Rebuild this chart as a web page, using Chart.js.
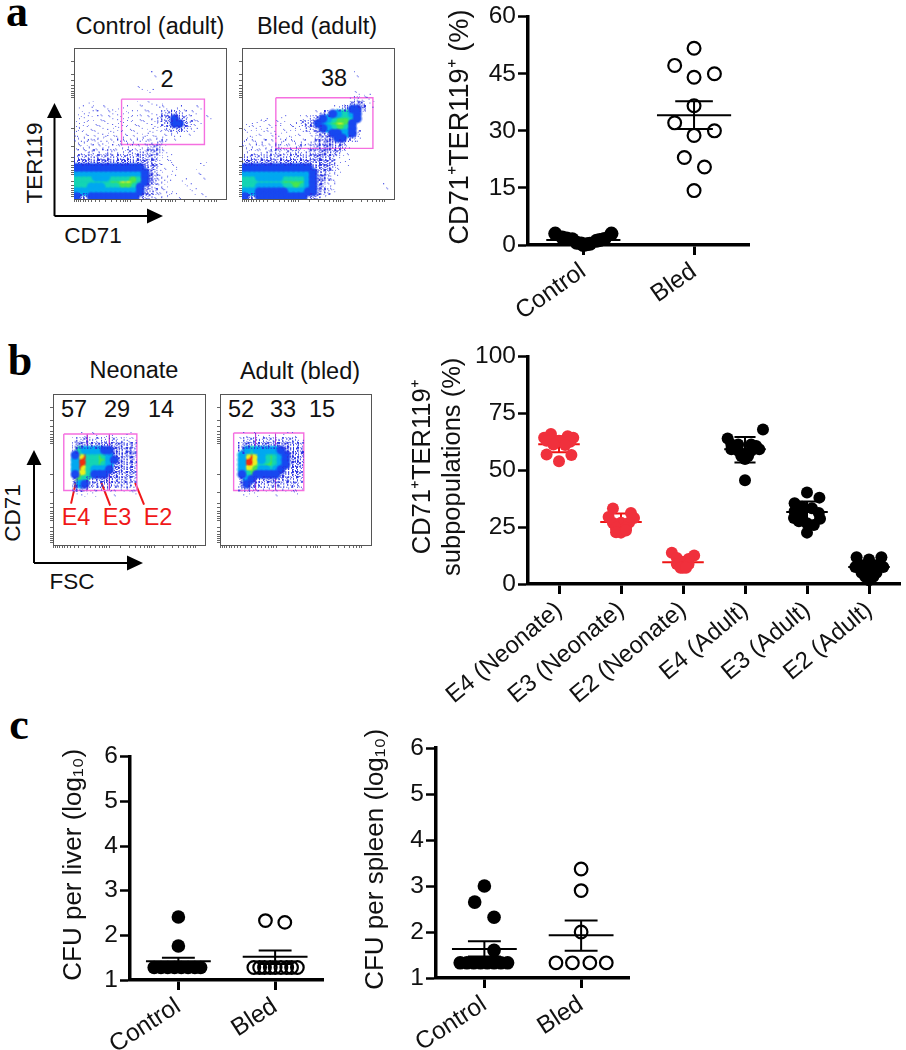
<!DOCTYPE html>
<html>
<head>
<meta charset="utf-8">
<script src="https://cdn.jsdelivr.net/npm/chart.js@4/dist/chart.umd.min.js"></script>
<style>
  body { margin: 0; background: #fff; }
  #fig { position: relative; width: 906px; height: 1050px; overflow: hidden; font-family: "Liberation Sans", sans-serif; color: #111; }
  #fig canvas { position: absolute; }
  #fig canvas.flow { filter: blur(0.6px); }
  #fig svg { position: absolute; left: 0; top: 0; }
  .t { position: absolute; font-size: 22.5px; line-height: 1; white-space: nowrap; transform: translate(-50%, -50%); }
  .h { font-size: 23.5px; }
  .v { transform: translate(-50%, -50%) rotate(-90deg); }
  .p { font-family: "Liberation Serif", serif; font-weight: bold; font-size: 44px; color: #000; }
  .r { color: #f01818; }
</style>
</head>
<body>
<div id="fig">
  <div class="t p" style="left:17px;top:12px">a</div>
  <div class="t p" style="left:20px;top:361px">b</div>
  <div class="t p" style="left:19px;top:725px">c</div>

  <div class="t h" style="left:150px;top:27px">Control (adult)</div>
  <div class="t h" style="left:317px;top:27px">Bled (adult)</div>
  <div class="t h" style="left:167px;top:80px">2</div>
  <div class="t h" style="left:334px;top:79px">38</div>
  <div class="t v" style="left:35px;top:163px">TER119</div>
  <div class="t" style="left:93px;top:236px">CD71</div>

  <div class="t h" style="left:134px;top:371px">Neonate</div>
  <div class="t h" style="left:300px;top:372px">Adult (bled)</div>
  <div class="t h" style="left:74px;top:410px">57</div>
  <div class="t h" style="left:117px;top:410px">29</div>
  <div class="t h" style="left:161px;top:410px">14</div>
  <div class="t h" style="left:241px;top:410px">52</div>
  <div class="t h" style="left:283px;top:410px">33</div>
  <div class="t h" style="left:322px;top:410px">15</div>
  <div class="t r h" style="left:76px;top:518px">E4</div>
  <div class="t r h" style="left:117px;top:518px">E3</div>
  <div class="t r h" style="left:158px;top:518px">E2</div>
  <div class="t v" style="left:13px;top:513px">CD71</div>
  <div class="t" style="left:72px;top:582px">FSC</div>

  <svg width="906" height="1050">
    <path d="M54.5 216V115M54.5 216H150M34 563V462M34 563H130" stroke="#000" stroke-width="2" fill="none"/>
    <path d="M47 118L54.5 103L62 118ZM147 208.5L163 216L147 223.5ZM26.500 465L34 450L41.500 465ZM127 555.500L143 563L127 570.500Z" fill="#000"/>
  </svg>
</div>

<script>
// panel a, dot plot (x = shift from the group's tick, in group widths)
const aGroups = ['Control', 'Bled'];
const aControlShift = [-0.254, 0.254, -0.19, -0.1, 0.19, 0.12, -0.06, 0, 0.06, -0.15, -0.02, 0.03, 0.15];
const aControlValues = [3.0, 3.0, 2.0, 1.5, 1.6, 1.1, 0.6, 0, 0.3, 1.7, 0.4, 0.2, 1.3];
const aBledShift = [0, -0.175, 0.184, 0, 0, -0.175, 0.184, 0, -0.088, 0.094, 0];
const aBledValues = [51.7, 47.2, 45, 44.1, 36.6, 32.1, 30, 28.8, 23, 20.5, 14.3];
const aMeans = [1.3, 34.1];
const aErrLow = [1.0, 30.5];
const aErrHigh = [1.6, 37.8];

// panel b, dot plot
const bGroups = ['E4 (Neonate)', 'E3 (Neonate)', 'E2 (Neonate)', 'E4 (Adult)', 'E3 (Adult)', 'E2 (Adult)'];
const bShift = [
  [-0.13, 0.14, -0.24, 0.23, 0, -0.2, 0.18, -0.09, 0.1, -0.2, 0.2, 0],
  [-0.13, 0.16, -0.2, 0.21, 0, -0.13, 0.13, -0.08, 0.08, 0, -0.08, 0.08],
  [-0.18, 0.18, -0.1, 0.09, 0, -0.1, 0.09, 0, -0.04, 0.05],
  [0.29, -0.28, -0.22, -0.11, 0.1, 0.18, -0.22, 0.23, -0.11, 0.1, 0, -0.06, 0.05, 0, 0],
  [0, 0.2, -0.2, -0.08, 0.08, -0.2, 0.19, -0.21, 0.21, -0.08, -0.13, 0.11, 0, 0],
  [-0.2, 0, 0.2, -0.22, 0.23, -0.12, 0.12, -0.12, 0.12, 0, 0, -0.06, 0.07, 0]
];
const bValues = [
  [66, 65, 64.3, 64.3, 63, 63, 62.6, 61.4, 61.2, 57, 56.8, 54],
  [33.2, 31.2, 29.5, 29, 27, 26.8, 27, 24.7, 24.7, 22.6, 22.8, 23.5],
  [13.7, 12.5, 11.4, 11, 9.6, 8.8, 8.8, 7.2, 7.2, 7.2],
  [68, 64, 61.4, 61.4, 61.4, 60.7, 59.3, 59.3, 58.6, 58.6, 57, 56.3, 56.3, 55, 45.6],
  [40.3, 38, 35.5, 34, 33.3, 32, 31.2, 29, 28.7, 30.5, 27.6, 26, 26.7, 22.6],
  [11.8, 10.8, 11.8, 7.5, 7.5, 8.2, 8.2, 5, 5, 3.9, 1.7, 3.2, 3.2, 6]
];
const bMeans = [61.5, 27.3, 9.6, 59.3, 31.7, 7.5];
const bErrLow = [58, 24, 7.5, 53.5, 26, 5];
const bErrHigh = [65, 31, 11.8, 64.7, 36.3, 9.6];

// panel c, CFU dot plots
const cGroups = ['Control', 'Bled'];
const liverControlShift = [0, 0, -0.25, -0.18, -0.11, -0.04, 0.03, 0.1, 0.17, 0.23];
const liverControlValues = [2.41, 1.76, 1.28, 1.28, 1.28, 1.28, 1.28, 1.28, 1.28, 1.28];
const liverBledShift = [-0.1, 0.1, -0.22, -0.16, -0.11, -0.05, 0, 0.06, 0.12, 0.17, 0.23];
const liverBledValues = [2.33, 2.29, 1.28, 1.28, 1.28, 1.28, 1.28, 1.28, 1.28, 1.28, 1.28];
const liverMeans = [1.42, 1.52];
const liverErrLow = [1.33, 1.36];
const liverErrHigh = [1.5, 1.66];

const spleenControlShift = [0, -0.1, 0.1, 0.1, -0.25, -0.18, -0.11, -0.04, 0.03, 0.1, 0.17, 0.24];
const spleenControlValues = [3.0, 2.65, 2.32, 1.6, 1.33, 1.33, 1.33, 1.33, 1.33, 1.33, 1.33, 1.33];
const spleenBledShift = [0, 0, 0, -0.26, -0.09, 0.09, 0.26];
const spleenBledValues = [3.37, 2.9, 2.0, 1.33, 1.33, 1.33, 1.33];
const spleenMeans = [1.63, 1.93];
const spleenErrLow = [1.47, 1.59];
const spleenErrHigh = [1.8, 2.25];

// flow plots: density read by eye on a 31 x 31 grid, one string per row
// . = empty, 1-3 = scattered events, 4-9 = blue, cyan, teal, green, yellow, red
const flowControl = [
  '', '', '', '', '', '................1', '', '', '.............1.1', '', '',
  '...1.........1.1.1',
  '.1..1.1.1.1...1...1.111..1',
  '.1.1.1.1.1.1.1.1.12232111',
  '1.1..1.1.1.1.1.1122343211..1',
  '1.1.1.1.1.1.1.1.1123443211',
  '11.1.1.1.1.1.1.1.11223211',
  '1.1.1.1.1.1.1.1.1.1111.1',
  '1111111111111111111.1',
  '11111.1.11111.11121',
  '111111111111111222',
  '1112111211121222221',
  '222222222222232221.1',
  '333333333333333221.1......1',
  '4444444444444433211.1',
  '555555555555554321..1....1',
  '66665556666776432111......1',
  '6666666778887643211...1',
  '6665556667776432111....1',
  '55555555555554322111....1',
  '43344444444443221111.1....1'
];
const flowBled = [
  '', '', '', '', '', '.......................1', '', '', '', '.......................1.1',
  '......................1211',
  '.....................1233.1',
  '...................123443',
  '...............123456654',
  '....1...1...112345677764',
  '.1.1.1.1..1122345678874',
  '1.1.1.1.1.1.12234567764',
  '.1.1.1.1.1.1.1.223445542',
  '1.1.1.1.1.1.1.1223344321',
  '111111111111112233332',
  '1111111211121122333321',
  '1111121212121223333211',
  '22222222222222333321',
  '33333333333333333321.1',
  '44444444444444333321',
  '55555555555555433211',
  '6665555566666543321',
  '6666666677777543211',
  '6665555566776543211..........1',
  '5554444445555443221',
  '433444444444433211'
];
const flowNeonate = [
  '', '', '', '', '', '', '', '', '......1.1..1...1',
  '....1222212121211',
  '....3333333333332',
  '....3655554433332',
  '....4896676533332',
  '....5996677543332',
  '....5996676533332',
  '....5986555433332',
  '....4886444333332',
  '....3763333332322',
  '....3543232222221',
  '....2321111111111',
  '....1.1.1...1...1'
];
const flowAdult = [
  '', '', '', '', '', '', '', '', '.....1.1.1...1.1',
  '....1222222222221',
  '....3333333333332',
  '....3565555543333',
  '....5898567654333',
  '....5998567654333',
  '....5998677654333',
  '....5887556543332',
  '....4674444433332',
  '....3543333333222',
  '....3432222222221',
  '....2321111111111',
  '.....1.1...1...1'
];

// gates and the small axis marks, in grid units
const gateControlX = [9.7, 26.6], gateControlY = [10.5, 19.8];
const gateBledX = [6.9, 26.7], gateBledY = [10.2, 20.6];
const gateNeonateX = [2.2, 17.1], gateNeonateY = [8.2, 19.8];
const gateAdultX = [2.8, 17.2], gateAdultY = [8, 19.8];
const splitNeonate = [7, 11.5];
const splitAdult = [7.3, 11.4];
const leaderX = [[4.63, 3.68], [9.9, 11.67], [16.76, 18.57]];
const leaderY = [[18.25, 22.5], [18.3, 22.9], [18.25, 22.7]];
const flowTicksX = [0.2, 0.6, 1, 1.4, 1.9, 2.4, 2.9, 3.5, 4.3, 5.3, 6.4, 7.6, 8.6, 9.4, 10, 10.5, 11, 11.5, 13.8, 15.6, 16.8, 17.8, 18.6, 19.2, 19.7, 20.1, 20.6, 22.5, 24.4, 25.6, 26.6, 27.4, 28, 28.6, 29];
const flowTicksY = [2.8, 5.5, 6.7, 7.6, 8.3, 8.9, 9.4, 9.8, 10.2, 16.6, 20.2, 22.4, 23.4, 24.1, 24.6, 25.1, 25.6, 26, 27.4, 28.2, 28.8, 29.3, 29.7, 30, 30.4];

const inkLevels = ['#1848f0', '#00a8f0', '#14d4b4', '#48e450', '#e8f020', '#f03010'];

// pixel textures for the density levels, fixed patterns
function speckle(count, salt) {
  const c = document.createElement('canvas');
  c.width = c.height = 7;
  const g = c.getContext('2d');
  g.fillStyle = 'rgba(40,50,225,0.75)';
  for (let i = 0; i < count; i++) {
    g.fillRect((i * 3 + salt * 5 + i * i) % 7, (i * 5 + salt * 3 + (i >> 1)) % 7, 1, 1);
  }
  return c;
}
function softDot(color) {
  const c = document.createElement('canvas');
  c.width = c.height = 11;
  const g = c.getContext('2d');
  const grad = g.createRadialGradient(5.5, 5.5, 1, 5.5, 5.5, 5.5);
  grad.addColorStop(0, color);
  grad.addColorStop(0.5, color);
  grad.addColorStop(1, color + '00');
  g.fillStyle = grad;
  g.fillRect(0, 0, 11, 11);
  return c;
}
const dotCounts = { 1: 3, 2: 12, 3: 34 };
const textures = {};
for (const level of [1, 2, 3]) {
  textures[level] = [0, 1, 2, 3].map(s => speckle(dotCounts[level], s));
}
inkLevels.forEach((color, i) => { textures[i + 4] = [softDot(color)]; });

function addCanvas(left, top, width, height, cls) {
  const c = document.createElement('canvas');
  c.width = width;
  c.height = height;
  c.style.left = left + 'px';
  c.style.top = top + 'px';
  if (cls) c.className = cls;
  document.getElementById('fig').appendChild(c);
  return c;
}

const frame = {
  id: 'frame',
  beforeDatasetsDraw(chart) {
    const a = chart.chartArea, g = chart.ctx;
    g.save();
    g.strokeStyle = '#555';
    g.lineWidth = 1;
    g.strokeRect(a.left + 0.5, a.top + 0.5, a.right - a.left, a.bottom - a.top);
    g.restore();
  }
};

function gateLine(xs, ys, color, width) {
  return {
    data: xs.map((x, i) => ({ x: x, y: ys[i] })),
    showLine: true, pointRadius: 0, borderColor: color, borderWidth: width, clip: false
  };
}

function flowPlot(left, top, w, h, rows, gateX, gateY, extras) {
  const datasets = [];
  for (let level = 1; level <= 9; level++) {
    const cells = [];
    rows.forEach((row, r) => {
      [...row].forEach((ch, c) => {
        if (ch === String(level)) cells.push({ x: c + 0.5, y: r + 0.5 });
      });
    });
    const tex = textures[level];
    datasets.push({
      data: cells, clip: 0, pointRadius: 3,
      pointStyle: ctx => tex[(ctx.dataIndex || 0) % tex.length]
    });
  }
  datasets.push(gateLine(
    [gateX[0], gateX[1], gateX[1], gateX[0], gateX[0]],
    [gateY[0], gateY[0], gateY[1], gateY[1], gateY[0]],
    '#f56fe0', 1.4));
  (extras || []).forEach(d => datasets.push(d));

  const axis = (ticks, size) => ({
    type: 'linear', min: 0, max: 31,
    grid: { drawOnChartArea: false, tickLength: 3, tickColor: '#666', tickWidth: 1 },
    border: { display: false },
    ticks: { display: false },
    afterBuildTicks: s => { s.ticks = ticks.map(v => ({ value: v })); },
    afterFit: s => { s[size] = 5; }
  });
  new Chart(addCanvas(left - 5, top - 2, w + 8, h + 8, 'flow'), {
    type: 'scatter',
    data: { datasets: datasets },
    plugins: [frame],
    options: {
      responsive: false,
      animation: false,
      layout: { padding: { top: 2, right: 3, left: 0, bottom: 0 } },
      plugins: { legend: { display: false }, tooltip: { enabled: false } },
      scales: {
        x: axis(flowTicksX, 'height'),
        y: Object.assign(axis(flowTicksY, 'width'), { reverse: true })
      }
    }
  });
}

function dots(groupIndex, shifts, values, color, open, radius) {
  return {
    data: values.map((v, i) => ({ x: groupIndex + shifts[i], y: v })),
    pointRadius: radius,
    pointBorderWidth: open ? 2.2 : 0,
    pointBorderColor: color,
    pointBackgroundColor: open ? 'rgba(0,0,0,0)' : color,
    clip: false
  };
}

function errorBars(groupIndex, mean, low, high, color) {
  const mw = 0.335, cw = 0.17;
  const gap = { x: NaN, y: NaN };
  return {
    data: [
      { x: groupIndex - mw, y: mean }, { x: groupIndex + mw, y: mean }, gap,
      { x: groupIndex - cw, y: high }, { x: groupIndex + cw, y: high }, gap,
      { x: groupIndex - cw, y: low }, { x: groupIndex + cw, y: low }, gap,
      { x: groupIndex, y: low }, { x: groupIndex, y: high }
    ],
    showLine: true, pointRadius: 0, borderColor: color, borderWidth: 2, clip: false
  };
}

function dotPlot(spec) {
  const n = spec.groups.length;
  new Chart(addCanvas(spec.left, spec.top, spec.axisW + spec.plotW + 2, spec.plotTop + spec.plotH + spec.labelH), {
    type: 'scatter',
    data: { datasets: spec.datasets },
    options: {
      responsive: false,
      animation: false,
      layout: { padding: { top: spec.plotTop, right: 2, left: 0, bottom: 0 } },
      plugins: { legend: { display: false }, tooltip: { enabled: false } },
      scales: {
        x: {
          type: 'linear', min: -0.5, max: n - 0.5,
          border: { color: '#000', width: 3.5 },
          grid: { drawOnChartArea: false, tickLength: 10, tickColor: '#000', tickWidth: 3 },
          ticks: {
            autoSkip: false, minRotation: spec.labelAngle, maxRotation: spec.labelAngle, padding: 2, color: '#111',
            font: { family: 'Liberation Sans', size: spec.labelSize },
            callback: v => spec.groups[v]
          },
          afterBuildTicks: s => { s.ticks = spec.groups.map((g, i) => ({ value: i })); },
          afterFit: s => { s.height = spec.labelH; }
        },
        y: {
          min: spec.yMin, max: spec.yMax,
          border: { color: '#000', width: 3.5 },
          grid: { drawOnChartArea: false, tickLength: 10, tickColor: '#000', tickWidth: 2.5 },
          ticks: {
            stepSize: spec.step, padding: 2, color: '#111',
            font: { family: 'Liberation Sans', size: 24.5 }
          },
          title: {
            display: true, text: spec.title, color: '#111',
            font: { family: 'Liberation Sans', size: spec.titleSize, lineHeight: 1.18 },
            padding: { top: spec.titlePad, bottom: 0 }
          },
          afterFit: s => { s.width = spec.axisW; }
        }
      }
    }
  });
}

// flow plots
flowPlot(74, 45, 154, 153, flowControl, gateControlX, gateControlY);
flowPlot(242, 45, 154, 153, flowBled, gateBledX, gateBledY);

const neonateExtras = splitNeonate.map(x => gateLine([x, x], gateNeonateY, '#b83ad0', 1));
leaderX.forEach((xs, i) => neonateExtras.push(gateLine(xs, leaderY[i], '#f01818', 2)));
flowPlot(53, 391, 154, 153, flowNeonate, gateNeonateX, gateNeonateY, neonateExtras);
flowPlot(220, 391, 153, 153, flowAdult, gateAdultX, gateAdultY,
  splitAdult.map(x => gateLine([x, x], gateAdultY, '#b83ad0', 1)));

// panel a (the leading spaces nudge rotated titles up to where the figure has them)
dotPlot({
  left: 440, top: 0, axisW: 88, plotW: 228, plotTop: 15, plotH: 230, labelH: 95, labelSize: 24.5, labelAngle: 35,
  groups: aGroups, yMin: 0, yMax: 60, step: 15,
  title: ' CD71\u207ATER119\u207A (%)', titleSize: 27.2, titlePad: 4,
  datasets: [
    dots(0, aControlShift, aControlValues, '#000', false, 7),
    dots(1, aBledShift, aBledValues, '#000', true, 6.4),
    ...aMeans.map((m, i) => errorBars(i, m, aErrLow[i], aErrHigh[i], '#000'))
  ]
});

// panel b
const bColors = ['#f0303c', '#f0303c', '#f0303c', '#000', '#000', '#000'];
const bLines = ['#ee1414', '#ee1414', '#ee1414', '#000', '#000', '#000'];
dotPlot({
  left: 400, top: 340, axisW: 128, plotW: 376, plotTop: 12, plotH: 232, labelH: 125, labelSize: 24, labelAngle: 40,
  groups: bGroups, yMin: 0, yMax: 100, step: 25,
  title: [' CD71\u207ATER119\u207A', ' subpopulations (%)'], titleSize: 25.5, titlePad: 8,
  datasets: [
    ...bValues.map((vals, i) => dots(i, bShift[i], vals, bColors[i], false, 6)),
    ...bMeans.map((m, i) => errorBars(i, m, bErrLow[i], bErrHigh[i], bLines[i]))
  ]
});

// panel c
dotPlot({
  left: 50, top: 740, axisW: 80, plotW: 200, plotTop: 12, plotH: 228, labelH: 85, labelSize: 24.5, labelAngle: 33,
  groups: cGroups, yMin: 1, yMax: 6, step: 1,
  title: ' CFU per liver (log\u2081\u2080)', titleSize: 26, titlePad: 8,
  datasets: [
    dots(0, liverControlShift, liverControlValues, '#000', false, 6.8),
    dots(1, liverBledShift, liverBledValues, '#000', true, 6.3),
    ...liverMeans.map((m, i) => errorBars(i, m, liverErrLow[i], liverErrHigh[i], '#000'))
  ]
});
dotPlot({
  left: 356, top: 720, axisW: 80, plotW: 200, plotTop: 28, plotH: 230, labelH: 85, labelSize: 24.5, labelAngle: 33,
  groups: cGroups, yMin: 1, yMax: 6, step: 1,
  title: ' CFU per spleen (log\u2081\u2080)', titleSize: 26, titlePad: 4,
  datasets: [
    dots(0, spleenControlShift, spleenControlValues, '#000', false, 6.8),
    dots(1, spleenBledShift, spleenBledValues, '#000', true, 6.3),
    ...spleenMeans.map((m, i) => errorBars(i, m, spleenErrLow[i], spleenErrHigh[i], '#000'))
  ]
});
</script>
</body>
</html>
